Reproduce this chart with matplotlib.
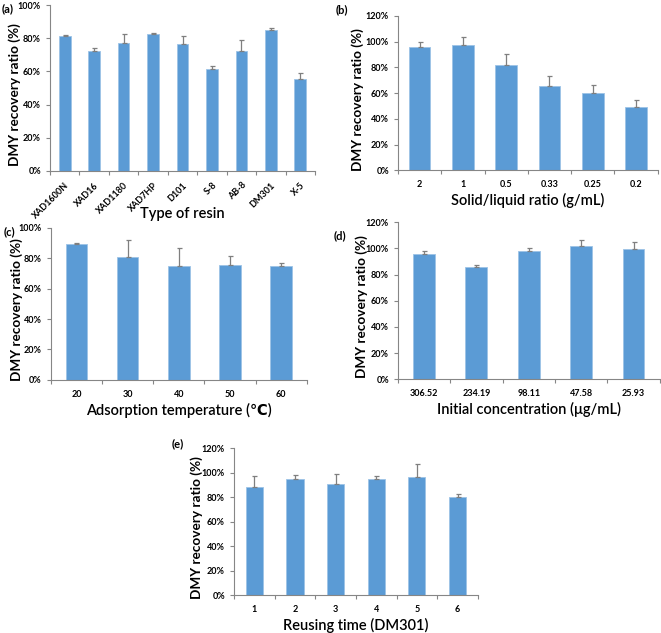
import matplotlib.pyplot as plt
import matplotlib.ticker as mtick
import numpy as np

# (a) type of resin
resins = ['XAD1600N', 'XAD16', 'XAD1180', 'XAD7HP', 'D101', 'S-8', 'AB-8', 'DM301', 'X-5']
resin_val = [81.2, 72.5, 77.4, 82.8, 76.8, 61.5, 72.3, 85.2, 55.7]
resin_err = [0.5, 1.4, 5.2, 0.4, 4.4, 2.0, 6.9, 1.0, 3.6]

# (b) solid/liquid ratio
ratios = ['2', '1', '0.5', '0.33', '0.25', '0.2']
ratio_val = [95.8, 97.4, 81.6, 65.2, 60.0, 49.4]
ratio_err = [4.2, 6.2, 9.0, 8.0, 6.2, 5.1]

# (c) adsorption temperature
temps = ['20', '30', '40', '50', '60']
temp_val = [89.2, 81.0, 75.1, 75.3, 74.7]
temp_err = [0.7, 10.9, 11.5, 6.2, 2.2]

# (d) initial concentration
concs = ['306.52', '234.19', '98.11', '47.58', '25.93']
conc_val = [96.0, 85.6, 98.3, 101.9, 99.4]
conc_err = [1.6, 1.5, 2.3, 4.3, 5.1]

# (e) reusing time
reuse = ['1', '2', '3', '4', '5', '6']
reuse_val = [88.6, 94.4, 90.8, 95.2, 96.5, 79.9]
reuse_err = [8.8, 4.0, 7.9, 2.2, 10.9, 2.5]

plt.rcParams['font.family'] = ['Lato', 'DejaVu Sans']

bar_color = '#5B9BD5'
axis_color = '#868686'


def panel(rect, cats, vals, errs, ymax, xlabel, tag, tagpos, ylab_x, width=0.42, rot=0):
    ax = fig.add_axes(rect)
    x = np.arange(len(cats))
    ax.bar(x, vals, width=width, color=bar_color, edgecolor='#9DC3E6', linewidth=0.6, zorder=2)
    ax.errorbar(x, vals, yerr=[np.zeros(len(vals)), errs], fmt='none',
                ecolor='#7f7f7f', elinewidth=0.9, capsize=1.8, capthick=0.9, zorder=3)
    ax.set_xlim(-0.5, len(cats) - 0.5)
    ax.set_ylim(0, ymax)
    ax.set_yticks(np.arange(0, ymax + 1, 20))
    ax.yaxis.set_major_formatter(mtick.PercentFormatter(decimals=0))
    ax.set_xticks(x)
    if rot:
        ax.set_xticklabels(cats, rotation=rot, ha='right', rotation_mode='anchor')
    else:
        ax.set_xticklabels(cats)
    ax.set_xticks(np.arange(-0.5, len(cats)), minor=True)
    ax.tick_params(axis='x', which='major', length=0, pad=7, labelsize=6.5)
    ax.tick_params(axis='x', which='minor', length=3, color=axis_color, width=0.8)
    ax.tick_params(axis='y', length=3, color=axis_color, width=0.8, labelsize=6.5)
    for lab in ax.get_xticklabels() + ax.get_yticklabels():
        lab.set_fontweight('bold')
    for s in ['top', 'right']:
        ax.spines[s].set_visible(False)
    for s in ['left', 'bottom']:
        ax.spines[s].set_color(axis_color)
        ax.spines[s].set_linewidth(0.8)
    ax.set_ylabel('DMY recovery ratio (%)', fontsize=9.8, fontweight='bold')
    ax.yaxis.set_label_coords(ylab_x, 0.46)
    ax.set_xlabel(xlabel, fontsize=10.5, fontweight='semibold', labelpad=3)
    fig.text(tagpos[0], tagpos[1], tag, fontsize=8, fontweight='bold', va='top')
    return ax


fig = plt.figure(figsize=(6.61, 6.33), dpi=100)

ax_a = panel([0.0756, 0.730, 0.401, 0.262], resins, resin_val, resin_err, 100,
             'Type of resin', '(a)', (0.003, 0.995), -0.108, width=0.4, rot=45)
ax_a.xaxis.set_label_coords(0.5, -0.215)
panel([0.602, 0.731, 0.393, 0.244], ratios, ratio_val, ratio_err, 120,
      'Solid/liquid ratio (g/mL)', '(b)', (0.507, 0.993), -0.13, width=0.5)
panel([0.077, 0.400, 0.387, 0.240], temps, temp_val, temp_err, 100,
      'Adsorption temperature (\u2103)', '(c)', (0.006, 0.643), -0.11)
panel([0.602, 0.401, 0.396, 0.248], concs, conc_val, conc_err, 120,
      'Initial concentration (\u03bcg/mL)', '(d)', (0.505, 0.637), -0.115)
panel([0.354, 0.060, 0.369, 0.232], reuse, reuse_val, reuse_err, 120,
      'Reusing time (DM301)', '(e)', (0.260, 0.308), -0.127)

fig.savefig('out.png', dpi=100)
